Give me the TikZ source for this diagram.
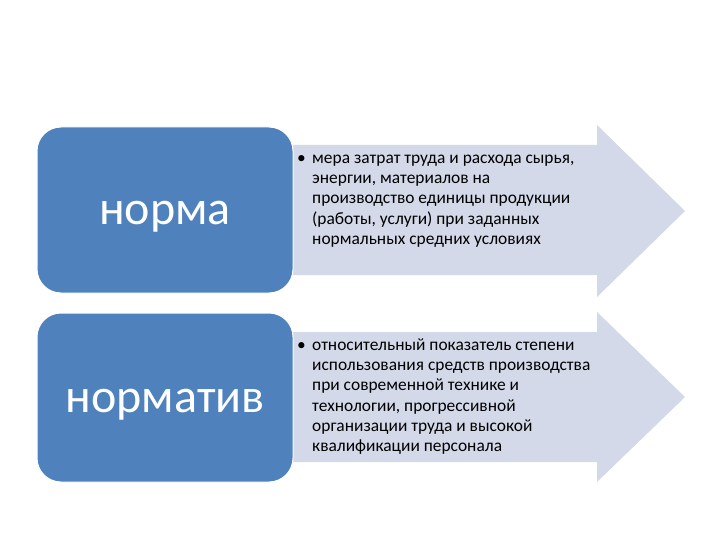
\documentclass[tikz,border=0pt]{standalone}
\usepackage{fontspec}
\setmainfont{Carlito}
\definecolor{termblue}{HTML}{4F81BD}
\definecolor{arrowgrey}{HTML}{D3D9E8}
\begin{document}
\begin{tikzpicture}[x=1pt,y=-1pt]
			\newcommand{\mytermfont}[1]{
				\fontsize{48}{56}\selectfont\raisebox{-7pt}[\height][\depth]{#1}
			}\newcommand{\mydeffont}[1]{
				\fontsize{17.4}{20.3}\selectfont{#1}
			}%Page frame
			\useasboundingbox (0,0) rectangle (720,540);
			\fill [white] (0,0) rectangle (720,540);
			%Upper arrow (body starts behind the blue box)
			\coordinate (a1bodyTL) at (200,145);
			\coordinate (a1bodyTR) at (597,145);
			\coordinate (a1headT) at (597,125);
			\coordinate (a1tip) at (685,211);
			\coordinate (a1headB) at (597,297);
			\coordinate (a1bodyBR) at (597,275);
			\coordinate (a1bodyBL) at (200,275);
			\fill [arrowgrey] (a1bodyTL) -- (a1bodyTR) -- (a1headT) -- (a1tip) -- (a1headB) -- (a1bodyBR) -- (a1bodyBL) -- cycle;
			%Lower arrow
			\coordinate (a2bodyTL) at (200,332);
			\coordinate (a2bodyTR) at (597,332);
			\coordinate (a2headT) at (597,312);
			\coordinate (a2tip) at (685,397);
			\coordinate (a2headB) at (597,482);
			\coordinate (a2bodyBR) at (597,462);
			\coordinate (a2bodyBL) at (200,462);
			\fill [arrowgrey] (a2bodyTL) -- (a2bodyTR) -- (a2headT) -- (a2tip) -- (a2headB) -- (a2bodyBR) -- (a2bodyBL) -- cycle;
			%Blue boxes with the terms
			\coordinate (center0) at (165,210);
			\node (norma) [fill=termblue,draw=white,line width=1pt,rounded corners=24pt,minimum width=256pt,minimum height=166pt,text=white,inner sep=0pt] at (center0) {\mytermfont{норма}};
			\coordinate (center1) at (165,397.5);
			\node (normativ) [fill=termblue,draw=white,line width=1pt,rounded corners=24pt,minimum width=256pt,minimum height=169pt,text=white,inner sep=0pt] at (center1) {\mytermfont{норматив}};
			%Definitions in the arrows
			\coordinate (def0) at (297,148.7);
			\node (normaText) [anchor=north west,inner sep=0pt] at (def0) {\mydeffont{\begin{tabular}{@{}l@{}l@{}}
				\makebox[15pt][l]{\textbullet} & мера затрат труда и расхода сырья,\\
				& энергии, материалов на\\
				& производство единицы продукции\\
				& (работы, услуги) при заданных\\
				& нормальных средних условиях
			\end{tabular}}};
			\coordinate (def1) at (297,335.7);
			\node (normativText) [anchor=north west,inner sep=0pt] at (def1) {\mydeffont{\begin{tabular}{@{}l@{}l@{}}
				\makebox[15pt][l]{\textbullet} & относительный показатель степени\\
				& использования средств производства\\
				& при современной технике и\\
				& технологии, прогрессивной\\
				& организации труда и высокой\\
				& квалификации персонала
			\end{tabular}}};
\end{tikzpicture}
\end{document}
